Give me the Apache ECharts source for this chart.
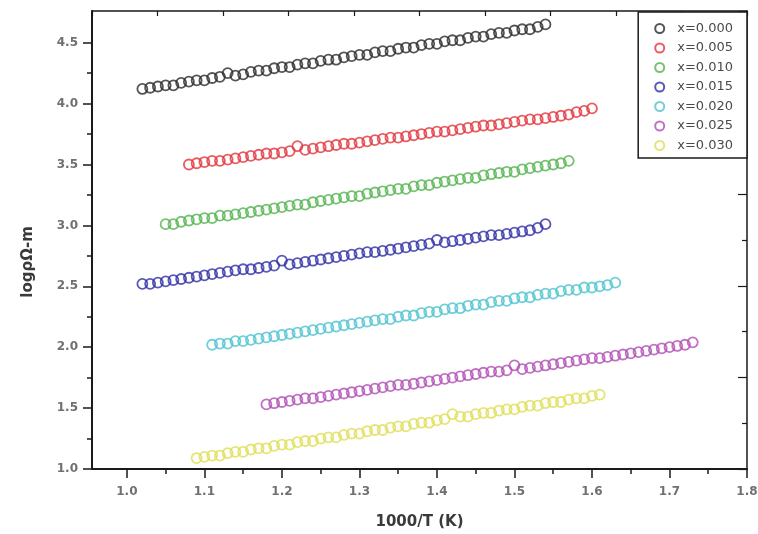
<!DOCTYPE html>
<html>
<head>
<meta charset="utf-8">
<script src="https://cdn.jsdelivr.net/npm/echarts@6/dist/echarts.min.js"></script>
<style>html,body{margin:0;padding:0;background:#fff}#c{width:758px;height:534px}</style>
</head>
<body>
<div id="c"></div>
<script>
const seriesNames = ['x=0.000','x=0.005','x=0.010','x=0.015','x=0.020','x=0.025','x=0.030'];
const seriesColors = ['#2b2b2b','#e2343c','#52b34f','#2f2fa6','#4cc3cf','#b24db5','#dede55'];

const xTickLabels = [1.0,1.1,1.2,1.3,1.4,1.5,1.6,1.7,1.8];
const xMinorTicks = [1.05,1.15,1.25,1.35,1.45,1.55,1.65,1.75];
const yTickLabels = [1.0,1.5,2.0,2.5,3.0,3.5,4.0,4.5];
const yMinorTicks = [1.25,1.75,2.25,2.75,3.25,3.75,4.25];

const x000 = [1.02,1.03,1.04,1.05,1.06,1.07,1.08,1.09,1.10,1.11,1.12,1.13,1.14,1.15,1.16,1.17,1.18,1.19,1.20,1.21,1.22,1.23,1.24,1.25,1.26,1.27,1.28,1.29,1.30,1.31,1.32,1.33,1.34,1.35,1.36,1.37,1.38,1.39,1.40,1.41,1.42,1.43,1.44,1.45,1.46,1.47,1.48,1.49,1.50,1.51,1.52,1.53,1.54];
const y000 = [4.12,4.13,4.14,4.15,4.15,4.17,4.18,4.19,4.19,4.21,4.22,4.25,4.23,4.24,4.26,4.27,4.27,4.29,4.30,4.30,4.32,4.33,4.33,4.35,4.36,4.36,4.38,4.39,4.40,4.40,4.42,4.43,4.43,4.45,4.46,4.46,4.48,4.49,4.49,4.51,4.52,4.52,4.54,4.55,4.55,4.57,4.58,4.58,4.60,4.61,4.61,4.63,4.65];

const x005 = [1.08,1.09,1.10,1.11,1.12,1.13,1.14,1.15,1.16,1.17,1.18,1.19,1.20,1.21,1.22,1.23,1.24,1.25,1.26,1.27,1.28,1.29,1.30,1.31,1.32,1.33,1.34,1.35,1.36,1.37,1.38,1.39,1.40,1.41,1.42,1.43,1.44,1.45,1.46,1.47,1.48,1.49,1.50,1.51,1.52,1.53,1.54,1.55,1.56,1.57,1.58,1.59,1.60];
const y005 = [3.50,3.51,3.52,3.53,3.53,3.54,3.55,3.56,3.57,3.58,3.59,3.59,3.60,3.61,3.65,3.62,3.63,3.64,3.65,3.66,3.67,3.67,3.68,3.69,3.70,3.71,3.72,3.72,3.73,3.74,3.75,3.76,3.77,3.77,3.78,3.79,3.80,3.81,3.82,3.82,3.83,3.84,3.85,3.86,3.87,3.87,3.88,3.89,3.90,3.91,3.93,3.94,3.96];

const x010 = [1.05,1.06,1.07,1.08,1.09,1.10,1.11,1.12,1.13,1.14,1.15,1.16,1.17,1.18,1.19,1.20,1.21,1.22,1.23,1.24,1.25,1.26,1.27,1.28,1.29,1.30,1.31,1.32,1.33,1.34,1.35,1.36,1.37,1.38,1.39,1.40,1.41,1.42,1.43,1.44,1.45,1.46,1.47,1.48,1.49,1.50,1.51,1.52,1.53,1.54,1.55,1.56,1.57];
const y010 = [3.01,3.01,3.03,3.04,3.05,3.06,3.06,3.08,3.08,3.09,3.10,3.11,3.12,3.13,3.14,3.15,3.16,3.17,3.17,3.19,3.20,3.21,3.22,3.23,3.24,3.24,3.26,3.27,3.28,3.29,3.30,3.30,3.32,3.33,3.33,3.35,3.36,3.37,3.38,3.39,3.39,3.41,3.42,3.43,3.44,3.44,3.46,3.47,3.48,3.49,3.50,3.51,3.53];

const x015 = [1.02,1.03,1.04,1.05,1.06,1.07,1.08,1.09,1.10,1.11,1.12,1.13,1.14,1.15,1.16,1.17,1.18,1.19,1.20,1.21,1.22,1.23,1.24,1.25,1.26,1.27,1.28,1.29,1.30,1.31,1.32,1.33,1.34,1.35,1.36,1.37,1.38,1.39,1.40,1.41,1.42,1.43,1.44,1.45,1.46,1.47,1.48,1.49,1.50,1.51,1.52,1.53,1.54];
const y015 = [2.52,2.52,2.53,2.54,2.55,2.56,2.57,2.58,2.59,2.60,2.61,2.62,2.63,2.64,2.64,2.65,2.66,2.67,2.71,2.68,2.69,2.70,2.71,2.72,2.73,2.74,2.75,2.76,2.77,2.78,2.78,2.79,2.80,2.81,2.82,2.83,2.84,2.85,2.88,2.86,2.87,2.88,2.89,2.90,2.91,2.92,2.92,2.93,2.94,2.95,2.96,2.98,3.01];

const x020 = [1.11,1.12,1.13,1.14,1.15,1.16,1.17,1.18,1.19,1.20,1.21,1.22,1.23,1.24,1.25,1.26,1.27,1.28,1.29,1.30,1.31,1.32,1.33,1.34,1.35,1.36,1.37,1.38,1.39,1.40,1.41,1.42,1.43,1.44,1.45,1.46,1.47,1.48,1.49,1.50,1.51,1.52,1.53,1.54,1.55,1.56,1.57,1.58,1.59,1.60,1.61,1.62,1.63];
const y020 = [2.02,2.03,2.03,2.05,2.05,2.06,2.07,2.08,2.09,2.10,2.11,2.12,2.13,2.14,2.15,2.16,2.17,2.18,2.19,2.20,2.21,2.22,2.23,2.23,2.25,2.26,2.26,2.28,2.29,2.29,2.31,2.32,2.32,2.34,2.35,2.35,2.37,2.38,2.38,2.40,2.41,2.41,2.43,2.44,2.44,2.46,2.47,2.47,2.49,2.49,2.50,2.51,2.53];

const x025 = [1.18,1.19,1.20,1.21,1.22,1.23,1.24,1.25,1.26,1.27,1.28,1.29,1.30,1.31,1.32,1.33,1.34,1.35,1.36,1.37,1.38,1.39,1.40,1.41,1.42,1.43,1.44,1.45,1.46,1.47,1.48,1.49,1.50,1.51,1.52,1.53,1.54,1.55,1.56,1.57,1.58,1.59,1.60,1.61,1.62,1.63,1.64,1.65,1.66,1.67,1.68,1.69,1.70,1.71,1.72,1.73];
const y025 = [1.53,1.54,1.55,1.56,1.57,1.58,1.58,1.59,1.60,1.61,1.62,1.63,1.64,1.65,1.66,1.67,1.68,1.69,1.69,1.70,1.71,1.72,1.73,1.74,1.75,1.76,1.77,1.78,1.79,1.80,1.80,1.81,1.85,1.82,1.83,1.84,1.85,1.86,1.87,1.88,1.89,1.90,1.91,1.91,1.92,1.93,1.94,1.95,1.96,1.97,1.98,1.99,2.00,2.01,2.02,2.04];

const x030 = [1.09,1.10,1.11,1.12,1.13,1.14,1.15,1.16,1.17,1.18,1.19,1.20,1.21,1.22,1.23,1.24,1.25,1.26,1.27,1.28,1.29,1.30,1.31,1.32,1.33,1.34,1.35,1.36,1.37,1.38,1.39,1.40,1.41,1.42,1.43,1.44,1.45,1.46,1.47,1.48,1.49,1.50,1.51,1.52,1.53,1.54,1.55,1.56,1.57,1.58,1.59,1.60,1.61];
const y030 = [1.09,1.10,1.11,1.11,1.13,1.14,1.14,1.16,1.17,1.17,1.19,1.20,1.20,1.22,1.23,1.23,1.25,1.26,1.26,1.28,1.29,1.29,1.31,1.32,1.32,1.34,1.35,1.35,1.37,1.38,1.38,1.40,1.41,1.45,1.43,1.43,1.45,1.46,1.46,1.48,1.49,1.49,1.51,1.52,1.52,1.54,1.55,1.55,1.57,1.58,1.58,1.60,1.61];

const xsAll = [x000,x005,x010,x015,x020,x025,x030];
const ysAll = [y000,y005,y010,y015,y020,y025,y030];

const chart = echarts.init(document.getElementById('c'), null, {renderer:'canvas'});
const FRAME = '#1a1a1a';
const labelStyle = {fontFamily:'DejaVu Sans', fontSize:12, fontWeight:'bold', color:'#707070'};

const series = seriesNames.map((name, i) => ({
  name: name,
  type: 'scatter',
  xAxisIndex: 0,
  yAxisIndex: 0,
  symbol: 'circle',
  symbolSize: 10,
  itemStyle: {color: 'rgba(255,255,255,0)', borderColor: seriesColors[i], borderWidth: 1.8},
  emphasis: {disabled: true},
  data: xsAll[i].map((x, j) => [x, ysAll[i][j]])
}));

chart.setOption({
  animation: false,
  backgroundColor: '#fff',
  grid: {left: 92, right: 11, top: 11, bottom: 65, containLabel: false, outerBoundsMode: 'none'},
  legend: {
    data: seriesNames,
    orient: 'vertical',
    right: 11,
    top: 12,
    padding: [10, 14, 6, 16],
    itemGap: 6.5,
    itemWidth: 9,
    itemHeight: 9,
    icon: 'circle',
    borderColor: FRAME,
    borderWidth: 1.5,
    backgroundColor: '#fff',
    textStyle: {fontFamily:'DejaVu Sans', fontSize:13, color:'#4a4a4a', padding:[0,0,0,8]}
  },
  xAxis: [
    {
      type: 'value', position: 'bottom', min: 0.955, max: 1.8,
      name: '1000/T (K)', nameLocation: 'middle', nameGap: 46,
      nameTextStyle: {fontFamily:'DejaVu Sans', fontSize:15, fontWeight:'bold', color:'#3a3a3a'},
      axisLine: {show: true, onZero: false, lineStyle: {color: FRAME, width: 2}},
      axisTick: {show: true, customValues: xTickLabels, length: 9, lineStyle: {color: FRAME, width: 1.5}},
      axisLabel: Object.assign({customValues: xTickLabels, margin: 17, formatter: v => v.toFixed(1)}, labelStyle),
      splitLine: {show: false}
    },
    {
      type: 'value', position: 'bottom', min: 0.955, max: 1.8,
      axisLine: {show: false, onZero: false},
      axisTick: {show: true, customValues: xMinorTicks, length: 5, lineStyle: {color: FRAME, width: 1.5}},
      axisLabel: {show: false},
      splitLine: {show: false}
    },
    {
      type: 'value', position: 'top', min: 0, max: 10, interval: 1,
      axisLine: {show: true, onZero: false, lineStyle: {color: FRAME, width: 1.5}},
      axisTick: {show: true, inside: true, length: 5, lineStyle: {color: FRAME, width: 1.2}},
      axisLabel: {show: false},
      splitLine: {show: false}
    }
  ],
  yAxis: [
    {
      type: 'value', position: 'left', min: 1.0, max: 4.76,
      axisLine: {show: true, onZero: false, lineStyle: {color: FRAME, width: 2}},
      axisTick: {show: true, customValues: yTickLabels, length: 9, lineStyle: {color: FRAME, width: 1.5}},
      axisLabel: Object.assign({customValues: yTickLabels, margin: 14, formatter: v => v.toFixed(1)}, labelStyle),
      splitLine: {show: false}
    },
    {
      type: 'value', position: 'left', min: 1.0, max: 4.76,
      axisLine: {show: false, onZero: false},
      axisTick: {show: true, customValues: yMinorTicks, length: 5, lineStyle: {color: FRAME, width: 1.5}},
      axisLabel: {show: false},
      splitLine: {show: false}
    },
    {
      type: 'value', position: 'right', min: 0, max: 10, interval: 2,
      axisLine: {show: true, onZero: false, lineStyle: {color: FRAME, width: 1.5}},
      axisTick: {show: true, inside: true, length: 9, lineStyle: {color: FRAME, width: 1.2}},
      minorTick: {show: true, splitNumber: 2, length: 5, lineStyle: {color: FRAME, width: 1.2}},
      axisLabel: {show: false},
      splitLine: {show: false}
    }
  ],
  graphic: [{
    type: 'text',
    x: 28, y: 262,
    rotation: Math.PI / 2,
    style: {text: 'logρΩ-m', fontFamily: 'DejaVu Sans', fontSize: 15, fontWeight: 'bold', fill: '#3a3a3a', align: 'center', verticalAlign: 'middle'}
  }],
  series: series
});
</script>
</body>
</html>
